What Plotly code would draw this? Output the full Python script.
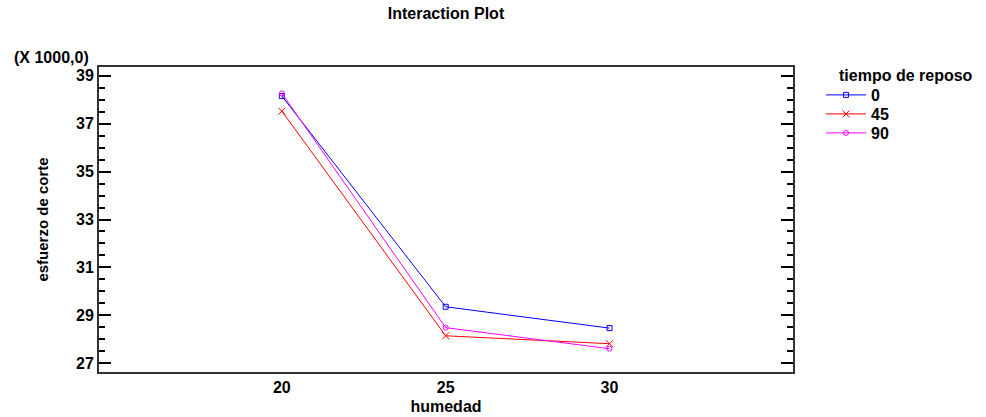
import plotly.graph_objects as go

humedad = [20, 25, 30]
series_names = ["0", "45", "90"]
esfuerzo_0 = [38150, 29360, 28470]
esfuerzo_45 = [37520, 28150, 27820]
esfuerzo_90 = [38260, 28490, 27610]
y_tick_vals = [27, 29, 31, 33, 35, 37, 39]
x_tick_vals = [20, 25, 30]

FONT = "Liberation Sans, Arial, sans-serif"
FS = 16

styles = [
    dict(color="#0000ff", symbol="square-open", size=5),
    dict(color="#ff0000", symbol="x-thin-open", size=7),
    dict(color="#ff00ff", symbol="circle-open", size=5),
]
legend_ids = ["legend", "legend2", "legend3"]
legend_y_px = [95, 114, 133]

# plot area in pixels
L, R, T, B = 99, 793, 67, 372
W, H = R - L, B - T

fig = go.Figure()
for name, vals, st, lid in zip(series_names, [esfuerzo_0, esfuerzo_45, esfuerzo_90], styles, legend_ids):
    fig.add_trace(go.Scatter(
        x=humedad, y=[v / 1000 for v in vals], name=f"<b>{name}</b>", mode="lines+markers",
        line=dict(color=st["color"], width=1),
        marker=dict(symbol=st["symbol"], size=st["size"], color=st["color"],
                    line=dict(color=st["color"], width=1)),
        legend=lid,
    ))

axis_line = "#333333"
layout_legends = {}
for lid, ypx in zip(legend_ids, legend_y_px):
    layout_legends[lid] = dict(
        x=(821 - L) / W, y=(B - ypx) / H, xanchor="left", yanchor="middle",
        font=dict(size=FS, family=FONT), itemwidth=40,
        bgcolor="rgba(0,0,0,0)", borderwidth=0,
    )

fig.update_layout(
    width=986, height=417,
    margin=dict(l=L, r=986 - R, t=T, b=417 - B, autoexpand=False),
    paper_bgcolor="white", plot_bgcolor="white",
    font=dict(family=FONT, color="black", size=FS),
    title=dict(text="<b>Interaction Plot</b>", x=446 / 986, xanchor="center",
               y=1 - 13 / 417, yanchor="middle", font=dict(size=FS, family=FONT)),
    xaxis=dict(range=[14.42, 35.6], tickvals=x_tick_vals,
               ticktext=[f"<b>{v}</b>" for v in x_tick_vals],
               showgrid=False, zeroline=False, showline=True, linecolor=axis_line,
               linewidth=2, mirror=True, ticks="", automargin=False,
               title=dict(text="<b>humedad</b>", standoff=6, font=dict(size=FS)),
               tickfont=dict(size=FS)),
    yaxis=dict(range=[26.64, 39.36], tickvals=y_tick_vals,
               ticktext=[f"<b>{v}</b>" for v in y_tick_vals],
               showgrid=False, zeroline=False, showline=True, linecolor=axis_line,
               linewidth=2, mirror="allticks", ticks="inside", ticklen=12,
               tickwidth=1.5, tickcolor="black", automargin=False,
               minor=dict(dtick=0.5, tick0=27, ticks="inside", ticklen=6,
                          tickwidth=1.5, tickcolor="black", showgrid=False),
               title=dict(text="<b>esfuerzo de corte</b>", standoff=24, font=dict(size=15)),
               tickfont=dict(size=FS)),
    showlegend=True,
    **layout_legends,
)

fig.add_annotation(text="<b>(X 1000,0)</b>", xref="paper", yref="paper",
                   x=(12 - L) / W, y=(B - 58) / H, xanchor="left", yanchor="middle",
                   showarrow=False, font=dict(size=FS, family=FONT))
fig.add_annotation(text="<b>tiempo de reposo</b>", xref="paper", yref="paper",
                   x=(837 - L) / W, y=(B - 76) / H, xanchor="left", yanchor="middle",
                   showarrow=False, font=dict(size=FS, family=FONT))

fig.write_html("out.html")
